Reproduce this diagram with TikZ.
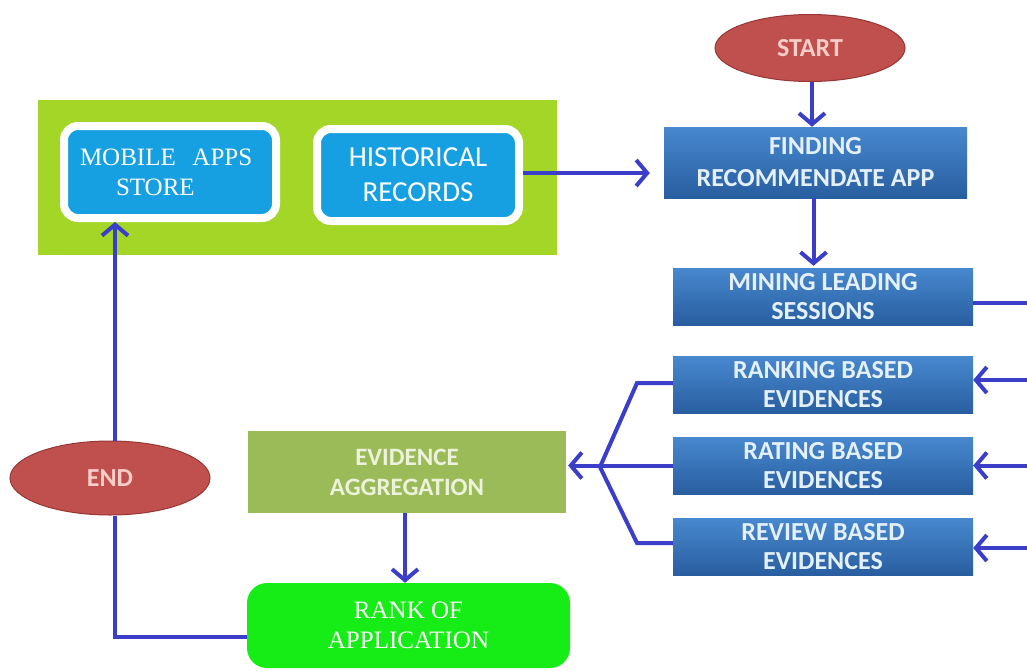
\documentclass[tikz,border=0pt]{standalone}
\usepackage{fontspec}
\setmainfont{Carlito}
\newfontfamily\serifb{Liberation Serif}
\usetikzlibrary{shapes.geometric,arrows.meta,calc}
\definecolor{lime}{RGB}{163,214,38}
\definecolor{cyanbox}{RGB}{22,160,226}
\definecolor{bluetop}{RGB}{72,136,206}
\definecolor{bluebot}{RGB}{40,94,160}
\definecolor{bluetext}{RGB}{228,240,250}
\definecolor{oval}{RGB}{192,80,77}
\definecolor{ovalline}{RGB}{150,55,52}
\definecolor{ovaltext}{RGB}{250,205,200}
\definecolor{olive}{RGB}{155,187,89}
\definecolor{olivetext}{RGB}{236,242,220}
\definecolor{brightgreen}{RGB}{22,236,22}
\definecolor{linkblue}{RGB}{58,62,200}
\tikzset{
  bluebox/.style={rectangle, top color=bluetop, bottom color=bluebot, text=bluetext,
    minimum width=300pt, minimum height=57pt, inner sep=0pt, align=center,
    font=\bfseries\fontsize{26}{29}\selectfont},
  cyanbox/.style={rectangle, rounded corners=14pt, fill=cyanbox, draw=white, line width=8pt,
    text=white, inner sep=0pt, minimum height=92pt},
  ovalnode/.style={ellipse, fill=oval, draw=ovalline, line width=1pt, text=ovaltext,
    inner sep=0pt, font=\bfseries\fontsize{26}{30}\selectfont},
  arr/.style={draw=linkblue, line width=4pt, -{Straight Barb[length=11pt,width=26pt,line width=4pt]}},
  link/.style={draw=linkblue, line width=4pt},
}
\begin{document}
\begin{tikzpicture}[x=1pt,y=-1pt]
\useasboundingbox (0,0) rectangle (1027,670);
\fill[white] (0,0) rectangle (1027,670);
% green panel
\node[rectangle, fill=lime, minimum width=519pt, minimum height=155pt, inner sep=0pt] (panel) at (297.5,177.5) {};
\node[cyanbox, minimum width=212pt, text width=188pt, align=left, font=\serifb\fontsize{25}{30}\selectfont] (mobile) at (170,172) {\hspace*{4pt}MOBILE\ \ APPS\\\hspace*{40pt}STORE};
\node[cyanbox, minimum width=202pt, align=center, font=\fontsize{29}{35}\selectfont] (hist) at (418,175) {HISTORICAL\\RECORDS};
% right column
\node[ovalnode, minimum width=190pt, minimum height=67pt] (start) at (810,48) {START};
\node[bluebox, minimum width=303pt, minimum height=71pt, font=\bfseries\fontsize{26}{32}\selectfont] (find) at (815.5,162.5) {FINDING\\RECOMMENDATE APP};
\node[bluebox] (mining) at (823,296.5) {MINING LEADING\\SESSIONS};
\node[bluebox] (ranking) at (823,385) {RANKING BASED\\EVIDENCES};
\node[bluebox] (rating) at (823,465.5) {RATING BASED\\EVIDENCES};
\node[bluebox] (review) at (823,546.5) {REVIEW BASED\\EVIDENCES};
% bottom
\node[rectangle, fill=olive, text=olivetext, minimum width=318pt, minimum height=82pt, inner sep=0pt,
  align=center, font=\bfseries\fontsize{25}{30}\selectfont] (aggr) at (407,472) {EVIDENCE\\AGGREGATION};
\node[rectangle, rounded corners=20pt, fill=brightgreen, text=white, minimum width=323pt, minimum height=85pt,
  inner sep=0pt, align=center, font=\serifb\fontsize{25}{30}\selectfont] (rank) at (408.5,625.5) {RANK OF\\APPLICATION};
\node[ovalnode, minimum width=200pt, minimum height=74pt] (end) at (110,478) {END};
% helper coordinates
\coordinate (fanA) at (637,383);
\coordinate (fanJ) at (600,467);
\coordinate (fanB) at (637,543);
\coordinate (busTop) at (1040,303);
\coordinate (busBot) at (1040,548);
\coordinate (rkY) at (1040,380);
\coordinate (rankIn) at (247,637);
\coordinate (endLeg) at (115,637);
% connectors
\draw[arr] ([xshift=2pt]start.south) -- ([xshift=2pt]start.south |- find.north);
\draw[arr, shorten >=2pt] ([xshift=-2pt]find.south) -- ([xshift=-2pt]find.south |- mining.north);
\draw[arr, shorten >=14pt] ([yshift=2pt]hist.east) -- ([yshift=2pt]hist.east -| find.west);
\draw[link] (mining.east |- busTop) -- (busTop) -- (busBot);
\draw[arr] (rkY) -- (rkY -| ranking.east);
\draw[arr] (busTop |- rating.east) -- (rating.east);
\draw[arr] (busBot) -- (busBot -| review.east);
\draw[link] (ranking.west |- fanA) -- (fanA) -- (fanJ) -- (fanB) -- (review.west |- fanB);
\draw[arr] (rating.west) -- ([xshift=2pt]aggr.east |- rating.west);
\draw[arr] ([xshift=-2pt]aggr.south) -- ([xshift=-2pt]aggr.south |- rank.north);
\draw[link] (rankIn) -- (endLeg) -- (endLeg |- end.south);
\draw[arr] (endLeg |- end.north) -- (endLeg |- mobile.south);
\end{tikzpicture}
\end{document}
